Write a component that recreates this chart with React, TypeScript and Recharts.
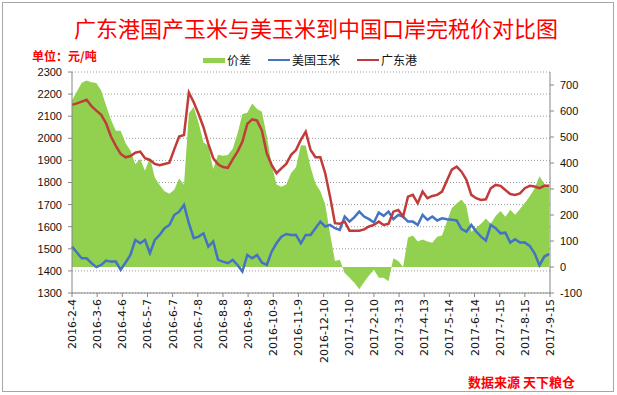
import { ComposedChart, Area, Line, XAxis, YAxis, CartesianGrid } from "recharts";

// sample dates, days since 2016-2-4
const days = [
  0, 6, 12, 18, 24, 30, 36, 42, 48, 54, 60, 66, 72, 78, 84, 90, 96, 102, 108, 114,
  120, 126, 132, 138, 144, 150, 156, 162, 168, 174, 180, 186, 192, 198, 204, 210, 216, 222, 228, 234,
  240, 246, 252, 258, 264, 270, 276, 282, 288, 294, 300, 306, 312, 318, 324, 330, 336, 342, 348, 354,
  360, 366, 372, 378, 384, 390, 396, 402, 408, 414, 420, 426, 432, 438, 444, 450, 456, 462, 468, 474,
  480, 486, 492, 498, 504, 510, 516, 522, 528, 534, 540, 546, 552, 558, 564, 570, 576, 582, 588,
];

// 广东港 (元/吨)
const gdPrice = [
  2151, 2158, 2166, 2174, 2146, 2125, 2106, 2068, 2008, 1966, 1929, 1914, 1920, 1935, 1940, 1910, 1902, 1884, 1878, 1884,
  1890, 1950, 2008, 2015, 2207, 2163, 2110, 2050, 1975, 1910, 1882, 1870, 1866, 1905, 1940, 1985, 2065, 2086, 2080, 2035,
  1932, 1880, 1842, 1864, 1884, 1925, 1947, 1993, 2030, 1947, 1914, 1914, 1842, 1736, 1616, 1613, 1623, 1582, 1582, 1582,
  1588, 1601, 1608, 1623, 1608, 1613, 1668, 1676, 1646, 1736, 1744, 1706, 1759, 1729, 1739, 1744, 1759, 1809, 1858, 1872,
  1849, 1812, 1744, 1729, 1721, 1724, 1774, 1789, 1785, 1766, 1748, 1744, 1751, 1774, 1785, 1782, 1774, 1785, 1785,
];

// 美国玉米 到港完税价 (元/吨)
const usPrice = [
  1510, 1483, 1457, 1457, 1435, 1417, 1427, 1447, 1442, 1442, 1405, 1438, 1472, 1540, 1525, 1540, 1480, 1540, 1563, 1593,
  1608, 1653, 1668, 1699, 1616, 1548, 1555, 1570, 1510, 1533, 1450, 1442, 1435, 1450, 1427, 1397, 1472, 1457, 1472, 1438,
  1427, 1487, 1525, 1555, 1567, 1563, 1563, 1525, 1563, 1563, 1593, 1623, 1601, 1608, 1593, 1585, 1646, 1623, 1643, 1668,
  1646, 1634, 1619, 1664, 1649, 1668, 1634, 1653, 1646, 1623, 1623, 1608, 1653, 1631, 1646, 1628, 1638, 1634, 1631, 1628,
  1589, 1578, 1608, 1578, 1555, 1537, 1608, 1593, 1570, 1573, 1528, 1543, 1528, 1528, 1513, 1480, 1425, 1465, 1477,
];

const tickDays = [0, 31, 62, 93, 124, 155, 186, 217, 248, 279, 310, 341, 372, 403, 434, 465, 496, 527, 558, 589];
const tickLabels = [
  "2016-2-4", "2016-3-6", "2016-4-6", "2016-5-7", "2016-6-7", "2016-7-8", "2016-8-8", "2016-9-8", "2016-10-9", "2016-11-9",
  "2016-12-10", "2017-1-10", "2017-2-10", "2017-3-13", "2017-4-13", "2017-5-14", "2017-6-14", "2017-7-15", "2017-8-15", "2017-9-15",
];

const leftTicks = [1300, 1400, 1500, 1600, 1700, 1800, 1900, 2000, 2100, 2200, 2300];
const rightTicks = [-100, 0, 100, 200, 300, 400, 500, 600, 700];

// 价差 = 广东港 - 美国玉米
const chartData = days.map((day, i) => ({
  day,
  gd: gdPrice[i],
  us: usPrice[i],
  spread: gdPrice[i] - usPrice[i],
}));

const RED = "#C23B3B";
const BLUE = "#4472C4";
const GREEN = "#92D050";
const axisFont = "Liberation Sans, Arial, sans-serif";

function DateTick(props: any) {
  const { x, y, payload } = props;
  const label = tickLabels[tickDays.indexOf(payload.value)];
  return (
    <text
      x={x}
      y={y}
      dy={4}
      transform={`rotate(-90, ${x}, ${y})`}
      textAnchor="end"
      fontSize={11}
      fontFamily="DejaVu Sans, sans-serif"
      fill="#111"
    >
      {label}
    </text>
  );
}

function LegendItem({ color, label, box }: { color: string; label: string; box?: boolean }) {
  return (
    <span style={{ display: "inline-flex", alignItems: "center", marginRight: 17 }}>
      <span
        style={{
          display: "inline-block",
          width: 22,
          height: box ? 5 : 2.5,
          background: color,
          marginRight: 2,
        }}
      />
      {label}
    </span>
  );
}

export default function App() {
  return (
    <div
      style={{
        position: "absolute",
        left: 0,
        top: 0,
        width: 617,
        height: 395,
        background: "#fff",
        overflow: "hidden",
      }}
    >
      <div style={{ position: "absolute", left: 0, top: 0 }}>
        <ComposedChart
          width={617}
          height={395}
          data={chartData}
          margin={{ top: 72, right: 0, bottom: 0, left: 0 }}
        >
          <CartesianGrid
            yAxisId="left"
            vertical={false}
            horizontalValues={leftTicks}
            stroke="#9a9a9a"
            strokeDasharray="1 2"
          />
          <XAxis
            dataKey="day"
            type="number"
            domain={[0, 589]}
            ticks={tickDays}
            interval={0}
            height={102}
            tick={<DateTick />}
            tickSize={4}
            stroke="#868686"
          />
          <YAxis
            yAxisId="left"
            domain={[1300, 2300]}
            ticks={leftTicks}
            interval={0}
            width={72}
            tickSize={4}
            tickMargin={6}
            stroke="#868686"
            tick={{ fontSize: 11, fill: "#111", fontFamily: axisFont }}
          />
          <YAxis
            yAxisId="right"
            orientation="right"
            domain={[-100, 750]}
            ticks={rightTicks}
            interval={0}
            width={67}
            tickSize={4}
            tickMargin={6}
            stroke="#868686"
            tick={{ fontSize: 11, fill: "#111", fontFamily: axisFont, textAnchor: "start" }}
          />
          <Area
            yAxisId="right"
            dataKey="spread"
            type="linear"
            baseValue={0}
            fill={GREEN}
            fillOpacity={1}
            stroke="none"
            isAnimationActive={false}
          />
          <Line
            yAxisId="left"
            dataKey="us"
            type="linear"
            stroke={BLUE}
            strokeWidth={2.5}
            dot={false}
            isAnimationActive={false}
          />
          <Line
            yAxisId="left"
            dataKey="gd"
            type="linear"
            stroke={RED}
            strokeWidth={2.5}
            dot={false}
            isAnimationActive={false}
          />
        </ComposedChart>
      </div>

      <div
        style={{
          position: "absolute",
          left: 2,
          top: 2,
          width: 610,
          height: 388,
          border: "1px solid #a6a6a6",
          pointerEvents: "none",
        }}
      />

      <div
        style={{
          position: "absolute",
          left: 74,
          top: 13,
          color: "#FF0000",
          fontSize: 22,
          lineHeight: "28px",
          whiteSpace: "nowrap",
          fontFamily: "Noto Sans CJK SC, sans-serif",
        }}
      >
        广东港国产玉米与美玉米到中国口岸完税价对比图
      </div>

      <div
        style={{
          position: "absolute",
          left: 32,
          top: 49,
          color: "#FF0000",
          fontSize: 12,
          fontWeight: "bold",
          lineHeight: "14px",
          fontFamily: "Noto Sans CJK SC, sans-serif",
        }}
      >
        单位：元/吨
      </div>

      <div
        style={{
          position: "absolute",
          left: 203,
          top: 52,
          display: "flex",
          fontSize: 12,
          lineHeight: "16px",
          color: "#111",
          fontFamily: "Noto Sans CJK SC, sans-serif",
          whiteSpace: "nowrap",
        }}
      >
        <LegendItem color={GREEN} label="价差" box />
        <LegendItem color={BLUE} label="美国玉米" />
        <LegendItem color={RED} label="广东港" />
      </div>

      <div
        style={{
          position: "absolute",
          left: 468,
          top: 373,
          color: "#FF0000",
          fontSize: 13,
          fontWeight: "bold",
          lineHeight: "18px",
          fontFamily: "Noto Sans CJK SC, sans-serif",
          whiteSpace: "nowrap",
        }}
      >
        数据来源 天下粮仓
      </div>
    </div>
  );
}
